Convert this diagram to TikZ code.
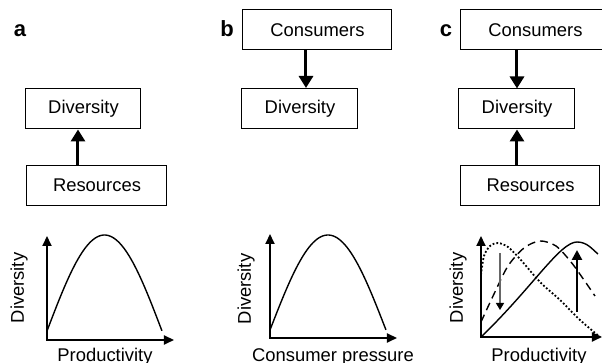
\documentclass[tikz,border=0pt]{standalone}
\usepackage{fontspec}
\setmainfont{Liberation Sans}
\usetikzlibrary{arrows.meta}

\begin{document}
\begin{tikzpicture}[x=0.5pt, y=-0.5pt, font=\fontsize{9.2}{11}\selectfont,
  box/.style={rectangle, draw, line width=0.5pt, minimum height=20pt, inner sep=0pt},
  flow/.style={line width=1.5pt, -{Triangle[length=6pt, width=7pt]}},
  axes/.style={line width=1pt, {Triangle[length=5pt, width=4.5pt]}-{Triangle[length=5pt, width=4.5pt]}},
  trend/.style={line width=0.7pt},
  panel/.style={anchor=base, font=\fontsize{11}{13}\selectfont\bfseries}]
\useasboundingbox (0,0) rectangle (602,363);
% panel labels
\node[panel] (labA) at (20,37) {a};
\node[panel] (labB) at (227,37) {b};
\node[panel] (labC) at (446,37) {c};
% a: resources -> diversity
\node[box, minimum width=57.5pt] (divA) at (83.5,109) {Diversity};
\node[box, minimum width=70pt] (resA) at (97,185.5) {Resources};
\coordinate (colA) at (78,150);
\draw[flow] (resA.north -| colA) -- (divA.south -| colA);
% b: consumers -> diversity
\node[box, minimum width=74.5pt] (consB) at (317.5,30) {Consumers};
\node[box, minimum width=58pt] (divB) at (300,108.5) {Diversity};
\coordinate (colB) at (306,70);
\draw[flow] (consB.south -| colB) -- (divB.north -| colB);
% c: both
\node[box, minimum width=74.5pt] (consC) at (535.5,30) {Consumers};
\node[box, minimum width=58pt] (divC) at (517,109) {Diversity};
\node[box, minimum width=69.5pt] (resC) at (530.5,185.5) {Resources};
\draw[flow] (consC.south -| divC) -- (divC.north);
\draw[flow] (resC.north -| divC) -- (divC.south);

% plot a
\draw[axes] (47,236) -- (47,340) -- (174,340);
\draw[trend] plot[variable=\t, domain=0:1, samples=60] ({47+115*\t}, {331-96*sin(180*\t)});
\node[rotate=90, anchor=base] (yA) at (24,288) {Diversity};
\node[anchor=base] (xA) at (105,362) {Productivity};

% plot b
\draw[axes] (270,234) -- (270,338) -- (397,338);
\draw[trend] plot[variable=\t, domain=0:1, samples=60] ({270+116*\t}, {330-95*sin(180*\t)});
\node[rotate=90, anchor=base] (yB) at (251,289) {Diversity};
\node[anchor=base] (xB) at (333,362) {Consumer pressure};

% plot c
\draw[axes] (481,236) -- (481,337) -- (602,337);
\draw[trend] (481,337) .. controls (532,288) and (560,242) .. (577,242)
  .. controls (587,242) and (592,249) .. (598,254);
\draw[trend, dash pattern=on 4pt off 2.5pt] plot[smooth] coordinates
  {(481,322) (494,294) (508,266) (524,248) (540,241) (556,246) (571,262) (584,280) (595,296)};
\draw[line width=0.9pt, densely dotted] plot[smooth] coordinates
  {(481,275) (484,256) (490,246) (498,243) (508,247) (520,259) (540,282) (560,300) (580,320) (600,337)};
\draw[black!60, line width=0.6pt, -{Triangle[length=3.5pt, width=4pt, color=black]}] (500,253) -- (500,310);
\draw[line width=1.3pt, -{Triangle[length=5pt, width=5pt]}] (577,312) -- (577,250);
\node[rotate=90, anchor=base] (yC) at (463,288) {Diversity};
\node[anchor=base] (xC) at (539,362) {Productivity};
\end{tikzpicture}
\end{document}
